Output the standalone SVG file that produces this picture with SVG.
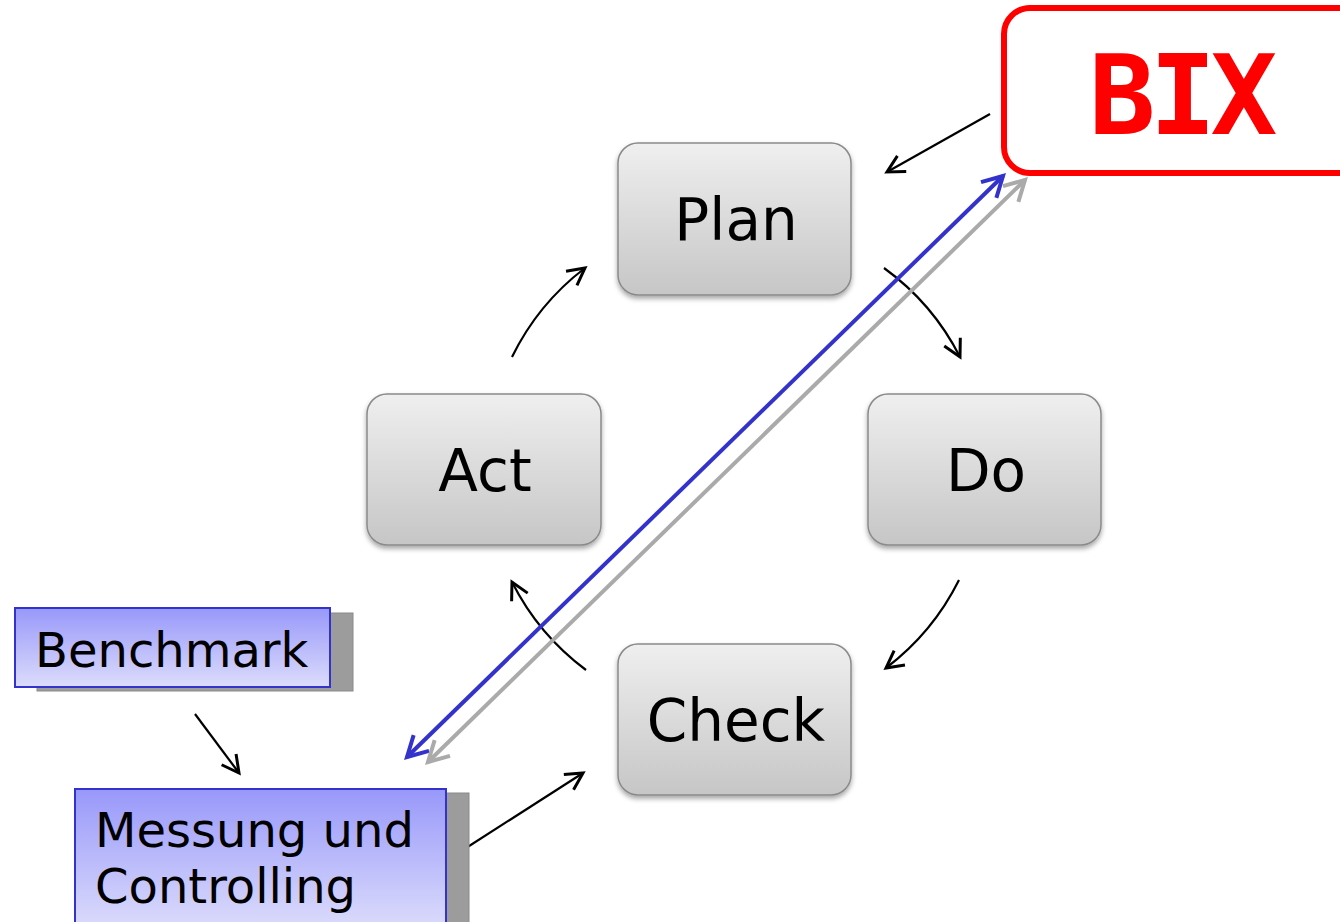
<svg xmlns="http://www.w3.org/2000/svg" width="1340" height="922" viewBox="0 0 1340 922">
<defs>
<linearGradient id="gNode" x1="0" y1="0" x2="0" y2="1">
<stop offset="0" stop-color="#efefef"/>
<stop offset="1" stop-color="#c6c6c6"/>
</linearGradient>
<linearGradient id="gBlue" x1="0" y1="0" x2="0" y2="1">
<stop offset="0" stop-color="#9898fa"/>
<stop offset="1" stop-color="#dcdcfc"/>
</linearGradient>
<filter id="sh" x="-10%" y="-10%" width="130%" height="130%">
<feDropShadow dx="0" dy="3" stdDeviation="2.5" flood-color="#000" flood-opacity="0.35"/>
</filter>
<marker id="ah" viewBox="0 0 26 26" refX="22" refY="13" markerWidth="26" markerHeight="26" markerUnits="userSpaceOnUse" orient="auto">
<path d="M5,4 L22,13 L5,22" fill="none" stroke="#000" stroke-width="3"/>
</marker>
<marker id="ahB" viewBox="0 0 30 30" refX="26" refY="15" markerWidth="30" markerHeight="30" markerUnits="userSpaceOnUse" orient="auto-start-reverse">
<path d="M6,4 L26,15 L6,26" fill="none" stroke="#3333cc" stroke-width="4"/>
</marker>
<marker id="ahG" viewBox="0 0 30 30" refX="26" refY="15" markerWidth="30" markerHeight="30" markerUnits="userSpaceOnUse" orient="auto-start-reverse">
<path d="M6,4 L26,15 L6,26" fill="none" stroke="#aaaaaa" stroke-width="4"/>
</marker>
</defs>
<style>
.node{fill:url(#gNode);stroke:#8a8a8a;stroke-width:1.5;filter:url(#sh)}
.lbl{font-family:"DejaVu Sans",Verdana,sans-serif;font-size:58px;fill:#000;text-anchor:middle}
.blbl{font-family:"DejaVu Sans",Verdana,sans-serif;font-size:48px;fill:#000}
.bbox{fill:url(#gBlue);stroke:#3333cc;stroke-width:2}
.bsh{fill:#9c9c9c;stroke:#8a8a8a;stroke-width:1}
.c{fill:none;stroke:#000;stroke-width:2.2;marker-end:url(#ah)}
</style>
<rect width="1340" height="922" fill="#fff"/>
<g id="connectors">
<path class="c" d="M990,114 L887,172"/>
<path class="c" d="M884,268 A250,250 0 0 1 960,357"/>
<path class="c" d="M959,580 A250,250 0 0 1 886,668"/>
<path class="c" d="M586,670 A250,250 0 0 1 512,582"/>
<path class="c" d="M512,357 A250,250 0 0 1 585,268"/>
<path class="c" d="M195,714 L239,773"/>
<path class="c" d="M466,848 L583,773"/>
</g>
<g id="plan"><rect class="node" x="618" y="143" width="233" height="152" rx="20"/><text class="lbl" x="736" y="240">Plan</text></g>
<g id="do"><rect class="node" x="868" y="394" width="233" height="151" rx="20"/><text class="lbl" x="986" y="491">Do</text></g>
<g id="act"><rect class="node" x="367" y="394" width="234" height="151" rx="20"/><text class="lbl" x="485" y="491">Act</text></g>
<g id="check"><rect class="node" x="618" y="644" width="233" height="151" rx="20"/><text class="lbl" x="736" y="741">Check</text></g>
<g id="bix"><rect x="1004" y="8" width="360" height="165" rx="26" fill="#fff" stroke="#ff0000" stroke-width="6"/><text x="1180" y="134" font-family="'DejaVu Sans Mono',monospace" font-weight="bold" font-size="111" letter-spacing="-6" fill="#ff0000" text-anchor="middle">BIX</text></g>
<g id="benchmark"><rect class="bsh" x="37" y="613" width="316" height="78"/><rect class="bbox" x="15" y="608" width="315" height="79"/><text class="blbl" x="35" y="667">Benchmark</text></g>
<g id="messung"><rect class="bsh" x="97" y="793" width="372" height="140"/><rect class="bbox" x="75" y="789" width="371" height="140"/><text class="blbl" x="95" y="847">Messung und</text><text class="blbl" x="95" y="903">Controlling</text></g>
<g id="bix-links">
<path d="M407,757 L1003,176" fill="none" stroke="#3333cc" stroke-width="4" marker-start="url(#ahB)" marker-end="url(#ahB)"/>
<path d="M428,762 L1025,180" fill="none" stroke="#aaaaaa" stroke-width="4" marker-start="url(#ahG)" marker-end="url(#ahG)"/>
</g>
</svg>
